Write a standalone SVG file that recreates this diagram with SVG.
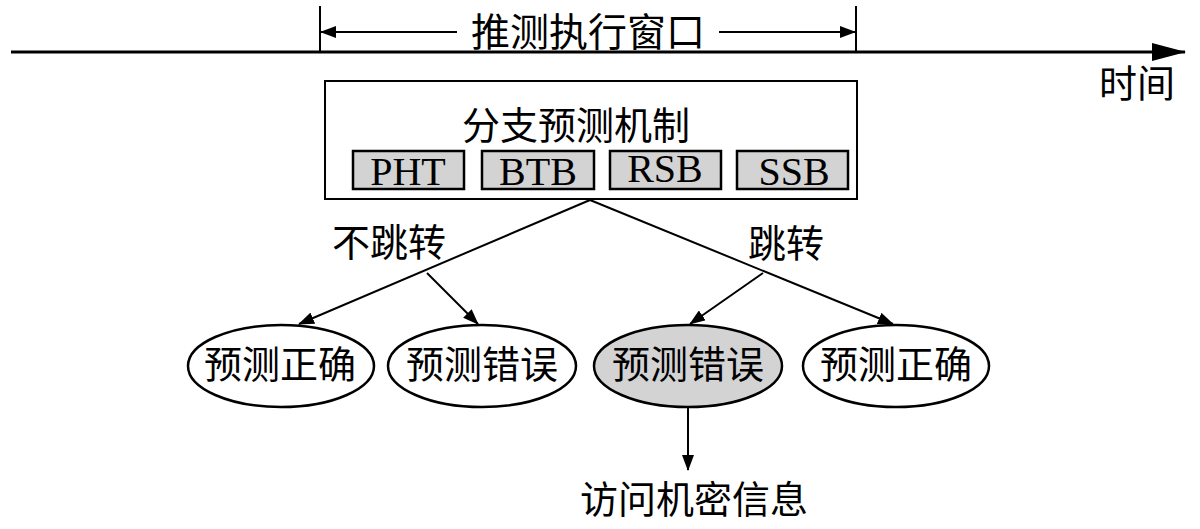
<svg xmlns="http://www.w3.org/2000/svg" width="1200" height="529" viewBox="0 0 1200 529">
<style>
.t{font-family:"Liberation Serif","Noto Sans CJK SC",serif;fill:#000;text-anchor:middle;dominant-baseline:central}
.cn{font-size:38px}
.lat{font-size:40px}
.ln{stroke:#000;stroke-width:2;fill:none}
.box{stroke:#000;stroke-width:2;fill:#fff}
.sb{stroke:#000;stroke-width:2.5;fill:#d3d3d3}
.el{stroke:#000;stroke-width:2.5;fill:#fff}
</style>
<defs>
<marker id="ah" markerUnits="userSpaceOnUse" markerWidth="16" markerHeight="12" refX="15" refY="6" orient="auto">
<path d="M0,0 L16,6 L0,12 Z" fill="#000"/>
</marker>
<marker id="big" markerUnits="userSpaceOnUse" markerWidth="34" markerHeight="18" refX="33" refY="9" orient="auto">
<path d="M0,0 L34,9 L0,18 Z" fill="#000"/>
</marker>
</defs>
<g id="timeline">
<line x1="11" y1="52" x2="1185" y2="52" stroke="#000" stroke-width="3" marker-end="url(#big)"/>
<text class="t cn" x="1137" y="84">时间</text>
</g>
<g id="window">
<line class="ln" x1="320" y1="6" x2="320" y2="52"/>
<line class="ln" x1="856" y1="6" x2="856" y2="52"/>
<line class="ln" x1="457" y1="32" x2="321" y2="32" marker-end="url(#ah)"/>
<line class="ln" x1="719" y1="32" x2="855" y2="32" marker-end="url(#ah)"/>
<text class="t cn" x="588" y="32" style="font-size:39px">推测执行窗口</text>
</g>
<g id="bp">
<rect class="box" x="325" y="81" width="532" height="118"/>
<text class="t cn" x="576" y="126">分支预测机制</text>
<g id="pht"><rect class="sb" x="353" y="151" width="111" height="38"/><text class="t lat" x="408" y="171">PHT</text></g>
<g id="btb"><rect class="sb" x="482" y="151" width="112" height="38"/><text class="t lat" x="538" y="171">BTB</text></g>
<g id="rsb"><rect class="sb" x="610" y="151" width="111" height="38"/><text class="t lat" x="665" y="168">RSB</text></g>
<g id="ssb"><rect class="sb" x="737" y="151" width="111" height="38"/><text class="t lat" x="794" y="171">SSB</text></g>
</g>
<g id="connectors">
<line class="ln" x1="590" y1="200" x2="299" y2="324" marker-end="url(#ah)"/>
<line class="ln" x1="427" y1="273" x2="478" y2="324" marker-end="url(#ah)"/>
<line class="ln" x1="590" y1="200" x2="893" y2="324" marker-end="url(#ah)"/>
<line class="ln" x1="763" y1="273" x2="690" y2="324" marker-end="url(#ah)"/>
<line class="ln" x1="688" y1="408" x2="688" y2="470" marker-end="url(#ah)"/>
<text class="t cn" x="389" y="243">不跳转</text>
<text class="t cn" x="786" y="244">跳转</text>
</g>
<g id="n1"><ellipse class="el" cx="281" cy="366" rx="93" ry="41"/><text class="t cn" x="280" y="365">预测正确</text></g>
<g id="n2"><ellipse class="el" cx="482" cy="366" rx="94" ry="41"/><text class="t cn" x="482" y="365">预测错误</text></g>
<g id="n3"><ellipse class="el" cx="688" cy="366" rx="94" ry="41" style="fill:#d3d3d3"/><text class="t cn" x="688" y="365">预测错误</text></g>
<g id="n4"><ellipse class="el" cx="896" cy="366" rx="93" ry="41"/><text class="t cn" x="896" y="365">预测正确</text></g>
<g id="secret"><text class="t cn" x="694" y="500">访问机密信息</text></g>
</svg>
